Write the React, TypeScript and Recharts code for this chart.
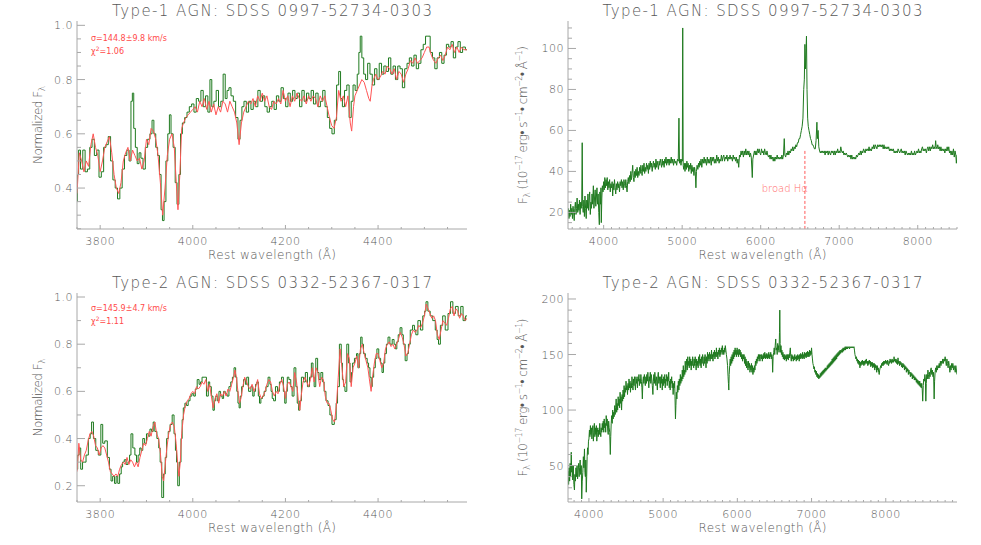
import React from 'react';
import { LineChart, Line, XAxis, YAxis, ReferenceLine } from 'recharts';

type Pt = [number, number];

const AXIS = '#a8a8a8';
const TEXT = '#585858';
const GREEN = '#1f7a1f';
const RED = '#ff5555';
const FONT = '"DejaVu Sans", sans-serif';

const title1 = 'Type-1 AGN: SDSS 0997-52734-0303';
const title2 = 'Type-2 AGN: SDSS 0332-52367-0317';
const xTitle = 'Rest wavelength (Å)';

// type-1, normalised zoom: observed (green) and template fit (red)
const t1Obs: Pt[] = [
  [3750, 0.35], [3752, 0.45], [3755, 0.54], [3760, 0.47], [3765, 0.54], [3770, 0.46], [3775, 0.47], [3780, 0.55],
  [3785, 0.58], [3790, 0.52], [3795, 0.54], [3800, 0.44], [3805, 0.46], [3810, 0.55], [3815, 0.56], [3820, 0.59],
  [3825, 0.5], [3830, 0.43], [3835, 0.4], [3840, 0.36], [3845, 0.4], [3850, 0.47], [3855, 0.52], [3860, 0.54],
  [3865, 0.5], [3868, 0.72], [3871, 0.75], [3874, 0.62], [3878, 0.55], [3882, 0.49], [3886, 0.53], [3890, 0.51],
  [3895, 0.47], [3900, 0.55], [3905, 0.58], [3910, 0.6], [3914, 0.65], [3918, 0.6], [3922, 0.55], [3926, 0.52],
  [3930, 0.45], [3933, 0.32], [3936, 0.28], [3940, 0.35], [3944, 0.5], [3948, 0.6], [3951, 0.67], [3955, 0.6],
  [3960, 0.55], [3964, 0.42], [3968, 0.34], [3972, 0.45], [3975, 0.6], [3980, 0.64], [3985, 0.66], [3990, 0.68],
  [3995, 0.7], [4000, 0.71], [4005, 0.68], [4010, 0.73], [4015, 0.72], [4020, 0.76], [4025, 0.7], [4030, 0.74],
  [4035, 0.68], [4039, 0.8], [4043, 0.7], [4048, 0.72], [4053, 0.76], [4058, 0.7], [4063, 0.72], [4068, 0.82],
  [4072, 0.73], [4076, 0.76], [4080, 0.77], [4085, 0.74], [4090, 0.72], [4095, 0.66], [4100, 0.58], [4104, 0.65],
  [4108, 0.7], [4113, 0.72], [4118, 0.68], [4123, 0.72], [4128, 0.69], [4133, 0.72], [4138, 0.7], [4143, 0.76],
  [4148, 0.72], [4153, 0.74], [4158, 0.7], [4163, 0.68], [4168, 0.7], [4173, 0.72], [4178, 0.69], [4183, 0.74],
  [4188, 0.72], [4193, 0.77], [4198, 0.73], [4203, 0.7], [4208, 0.75], [4213, 0.72], [4218, 0.76], [4223, 0.73],
  [4228, 0.75], [4233, 0.7], [4238, 0.76], [4243, 0.72], [4248, 0.75], [4253, 0.73], [4258, 0.76], [4263, 0.71],
  [4268, 0.75], [4273, 0.7], [4278, 0.72], [4283, 0.76], [4288, 0.7], [4293, 0.66], [4298, 0.62], [4303, 0.6],
  [4308, 0.65], [4313, 0.78], [4317, 0.83], [4321, 0.73], [4325, 0.7], [4330, 0.76], [4335, 0.78], [4340, 0.66],
  [4344, 0.72], [4348, 0.78], [4353, 0.76], [4357, 0.82], [4360, 0.9], [4363, 0.96], [4367, 0.88], [4371, 0.82],
  [4375, 0.8], [4380, 0.86], [4385, 0.82], [4390, 0.78], [4395, 0.84], [4400, 0.8], [4405, 0.86], [4410, 0.82],
  [4415, 0.85], [4420, 0.83], [4425, 0.88], [4430, 0.82], [4435, 0.85], [4440, 0.8], [4445, 0.85], [4450, 0.84],
  [4455, 0.77], [4460, 0.84], [4465, 0.86], [4470, 0.88], [4475, 0.85], [4480, 0.89], [4485, 0.84], [4490, 0.86],
  [4495, 0.91], [4500, 0.93], [4505, 0.96], [4510, 0.96], [4515, 0.9], [4520, 0.88], [4525, 0.84], [4530, 0.88],
  [4535, 0.9], [4540, 0.86], [4545, 0.89], [4550, 0.93], [4555, 0.92], [4560, 0.94], [4565, 0.88], [4570, 0.92],
  [4575, 0.94], [4580, 0.9], [4585, 0.92], [4592, 0.91],
];

const t1Fit: Pt[] = [
  [3750, 0.38], [3755, 0.53], [3760, 0.5], [3765, 0.46], [3770, 0.5], [3775, 0.48], [3780, 0.56], [3785, 0.6],
  [3790, 0.55], [3795, 0.52], [3800, 0.46], [3805, 0.5], [3810, 0.55], [3815, 0.57], [3820, 0.59], [3825, 0.53],
  [3830, 0.45], [3835, 0.4], [3840, 0.38], [3845, 0.42], [3850, 0.5], [3855, 0.53], [3860, 0.55], [3865, 0.5],
  [3870, 0.54], [3875, 0.52], [3880, 0.5], [3885, 0.51], [3890, 0.47], [3895, 0.5], [3900, 0.58], [3905, 0.56],
  [3910, 0.62], [3915, 0.61], [3920, 0.58], [3925, 0.52], [3930, 0.42], [3935, 0.3], [3940, 0.4], [3945, 0.52],
  [3950, 0.58], [3955, 0.6], [3960, 0.55], [3965, 0.4], [3968, 0.32], [3972, 0.45], [3976, 0.62], [3980, 0.64],
  [3985, 0.66], [3990, 0.67], [3995, 0.68], [4000, 0.69], [4005, 0.7], [4010, 0.68], [4015, 0.72], [4020, 0.7],
  [4025, 0.73], [4030, 0.69], [4035, 0.72], [4040, 0.68], [4045, 0.71], [4050, 0.67], [4055, 0.7], [4060, 0.68],
  [4065, 0.72], [4070, 0.71], [4075, 0.68], [4080, 0.72], [4085, 0.7], [4090, 0.68], [4095, 0.64], [4100, 0.56],
  [4105, 0.64], [4110, 0.68], [4115, 0.7], [4120, 0.72], [4125, 0.71], [4130, 0.73], [4135, 0.7], [4140, 0.74],
  [4145, 0.72], [4150, 0.75], [4155, 0.72], [4160, 0.74], [4165, 0.7], [4170, 0.69], [4175, 0.72], [4180, 0.71],
  [4185, 0.73], [4190, 0.71], [4195, 0.76], [4200, 0.72], [4205, 0.74], [4210, 0.7], [4215, 0.74], [4220, 0.72],
  [4225, 0.75], [4230, 0.73], [4235, 0.72], [4240, 0.74], [4245, 0.71], [4250, 0.74], [4255, 0.72], [4260, 0.74],
  [4265, 0.73], [4270, 0.7], [4275, 0.74], [4280, 0.72], [4285, 0.74], [4290, 0.7], [4295, 0.66], [4300, 0.63],
  [4305, 0.62], [4310, 0.66], [4315, 0.76], [4320, 0.72], [4325, 0.74], [4330, 0.7], [4335, 0.74], [4340, 0.64],
  [4343, 0.61], [4347, 0.7], [4350, 0.74], [4355, 0.76], [4360, 0.78], [4365, 0.8], [4370, 0.79], [4375, 0.76],
  [4380, 0.73], [4383, 0.72], [4387, 0.78], [4390, 0.8], [4395, 0.82], [4400, 0.8], [4405, 0.81], [4410, 0.83],
  [4415, 0.82], [4420, 0.85], [4425, 0.84], [4430, 0.82], [4435, 0.84], [4440, 0.8], [4445, 0.83], [4450, 0.82],
  [4455, 0.79], [4460, 0.82], [4465, 0.84], [4470, 0.87], [4475, 0.86], [4480, 0.88], [4485, 0.86], [4490, 0.87],
  [4495, 0.88], [4500, 0.9], [4505, 0.92], [4510, 0.92], [4515, 0.89], [4520, 0.87], [4525, 0.86], [4530, 0.88],
  [4535, 0.89], [4540, 0.87], [4545, 0.89], [4550, 0.92], [4555, 0.91], [4560, 0.93], [4565, 0.9], [4570, 0.92],
  [4575, 0.9], [4580, 0.92], [4585, 0.91], [4592, 0.91],
];

// type-1, full flux-calibrated spectrum
const t1Full: Pt[] = [
  [3550, 22], [3558, 17], [3565, 21], [3572, 18], [3580, 24], [3588, 19], [3595, 22], [3603, 17], [3610, 23],
  [3618, 20], [3625, 16], [3632, 22], [3640, 25], [3648, 19], [3655, 22], [3662, 27], [3670, 20], [3678, 24],
  [3685, 21], [3692, 26], [3700, 19], [3708, 25], [3715, 22], [3721, 26], [3727, 54], [3733, 23], [3740, 20],
  [3748, 26], [3755, 18], [3762, 28], [3770, 22], [3778, 17], [3785, 26], [3792, 22], [3800, 29], [3808, 21],
  [3815, 26], [3822, 30], [3830, 19], [3838, 25], [3845, 22], [3852, 29], [3860, 24], [3869, 33], [3876, 22],
  [3884, 27], [3892, 31], [3900, 23], [3908, 28], [3915, 32], [3922, 24], [3930, 29], [3938, 20], [3945, 14],
  [3952, 30], [3960, 24], [3966, 32], [3970, 15], [3977, 27], [3984, 33], [3992, 30], [4000, 35], [4008, 31],
  [4015, 37], [4023, 32], [4030, 36], [4038, 33], [4045, 37], [4053, 31], [4060, 35], [4068, 32], [4076, 36],
  [4084, 30], [4092, 34], [4100, 32], [4108, 35], [4115, 28], [4123, 34], [4130, 31], [4138, 36], [4146, 32],
  [4154, 29], [4162, 34], [4170, 31], [4178, 35], [4186, 32], [4194, 34], [4202, 30], [4210, 35], [4218, 33],
  [4226, 36], [4234, 32], [4242, 35], [4250, 31], [4258, 36], [4266, 34], [4274, 32], [4282, 36], [4290, 33],
  [4298, 30], [4306, 35], [4314, 37], [4322, 34], [4330, 38], [4338, 35], [4346, 40], [4354, 36], [4362, 39],
  [4370, 43], [4378, 37], [4386, 35], [4394, 40], [4402, 37], [4410, 41], [4418, 38], [4426, 42], [4434, 37],
  [4442, 40], [4450, 38], [4458, 42], [4466, 39], [4474, 43], [4482, 40], [4490, 38], [4498, 43], [4506, 40],
  [4514, 44], [4522, 39], [4530, 42], [4538, 40], [4546, 44], [4554, 41], [4562, 43], [4570, 39], [4578, 44],
  [4586, 41], [4594, 45], [4602, 42], [4610, 44], [4618, 40], [4626, 43], [4634, 45], [4642, 42], [4650, 44],
  [4658, 41], [4666, 46], [4674, 42], [4682, 45], [4690, 43], [4698, 41], [4706, 45], [4714, 43], [4722, 46],
  [4730, 44], [4738, 42], [4746, 46], [4754, 43], [4762, 45], [4770, 42], [4778, 46], [4786, 44], [4794, 47],
  [4802, 43], [4810, 46], [4818, 44], [4826, 46], [4834, 43], [4842, 46], [4850, 44], [4861, 47], [4870, 44],
  [4880, 46], [4890, 43], [4900, 46], [4910, 44], [4920, 45], [4930, 43], [4940, 46], [4950, 45], [4959, 66],
  [4966, 44], [4975, 46], [4985, 43], [4995, 46], [5002, 45], [5007, 110], [5013, 43], [5020, 41], [5028, 44],
  [5036, 40], [5045, 44], [5053, 41], [5060, 45], [5068, 42], [5076, 44], [5084, 40], [5092, 43], [5100, 41],
  [5108, 44], [5116, 39], [5124, 43], [5132, 40], [5140, 42], [5150, 38], [5158, 42], [5166, 40], [5175, 32],
  [5182, 40], [5190, 43], [5200, 41], [5208, 44], [5216, 42], [5224, 45], [5232, 43], [5240, 46], [5250, 42],
  [5260, 46], [5270, 44], [5280, 47], [5290, 44], [5300, 46], [5310, 43], [5320, 47], [5330, 44], [5340, 46],
  [5350, 44], [5360, 47], [5370, 43], [5380, 47], [5390, 45], [5400, 47], [5410, 44], [5420, 46], [5430, 44],
  [5440, 48], [5450, 45], [5460, 47], [5470, 44], [5480, 46], [5490, 45], [5500, 48], [5510, 45], [5520, 47],
  [5530, 48], [5540, 45], [5550, 47], [5560, 46], [5570, 48], [5580, 45], [5590, 47], [5600, 46], [5610, 48],
  [5620, 46], [5630, 47], [5640, 45], [5650, 48], [5660, 46], [5670, 47], [5680, 45], [5690, 47], [5700, 44],
  [5710, 46], [5720, 42], [5730, 48], [5740, 47], [5750, 50], [5760, 48], [5770, 50], [5780, 47], [5790, 50],
  [5800, 48], [5810, 51], [5820, 48], [5830, 50], [5840, 48], [5850, 50], [5860, 47], [5870, 49], [5880, 47],
  [5893, 37], [5900, 46], [5910, 48], [5920, 50], [5930, 48], [5940, 50], [5950, 48], [5960, 51], [5970, 49],
  [5980, 51], [5990, 49], [6000, 48], [6010, 51], [6020, 49], [6030, 50], [6040, 48], [6050, 51], [6060, 49],
  [6070, 48], [6080, 50], [6090, 48], [6100, 47], [6110, 48], [6120, 46], [6130, 48], [6140, 46], [6150, 47],
  [6160, 45], [6170, 47], [6180, 45], [6190, 47], [6200, 46], [6210, 48], [6220, 46], [6230, 47], [6240, 46],
  [6250, 47], [6260, 46], [6270, 48], [6280, 46], [6290, 48], [6300, 56], [6308, 48], [6318, 47], [6328, 49],
  [6338, 48], [6348, 50], [6358, 48], [6368, 50], [6378, 49], [6388, 51], [6398, 50], [6408, 52], [6418, 50],
  [6428, 52], [6438, 51], [6448, 53], [6458, 52], [6468, 54], [6478, 54], [6488, 56], [6498, 56], [6508, 58],
  [6518, 60], [6528, 62], [6538, 66], [6548, 80], [6556, 85], [6563, 102], [6570, 90], [6578, 100], [6583, 106],
  [6590, 80], [6598, 66], [6606, 62], [6615, 60], [6625, 58], [6635, 56], [6645, 55], [6655, 53], [6665, 53],
  [6675, 52], [6685, 51], [6695, 51], [6705, 55], [6716, 64], [6722, 56], [6731, 60], [6740, 52], [6750, 50],
  [6760, 49], [6770, 50], [6780, 49], [6790, 50], [6800, 49], [6810, 50], [6820, 48], [6830, 50], [6840, 49],
  [6850, 50], [6860, 48], [6870, 50], [6880, 49], [6890, 48], [6900, 50], [6910, 49], [6920, 50], [6930, 48],
  [6940, 50], [6950, 48], [6960, 50], [6970, 49], [6980, 51], [6990, 49], [7000, 50], [7010, 49], [7020, 52],
  [7030, 50], [7040, 49], [7050, 50], [7060, 48], [7070, 49], [7080, 48], [7090, 49], [7100, 48], [7110, 47],
  [7120, 48], [7130, 47], [7140, 48], [7150, 46], [7160, 48], [7170, 46], [7180, 47], [7190, 46], [7200, 47],
  [7210, 46], [7220, 48], [7230, 47], [7240, 48], [7250, 49], [7260, 48], [7270, 50], [7280, 48], [7290, 50],
  [7300, 49], [7310, 51], [7320, 50], [7330, 49], [7340, 51], [7350, 50], [7360, 51], [7370, 50], [7380, 52],
  [7390, 50], [7400, 51], [7410, 50], [7420, 52], [7430, 51], [7440, 53], [7450, 51], [7460, 53], [7470, 52],
  [7480, 51], [7490, 53], [7500, 52], [7510, 53], [7520, 52], [7530, 53], [7540, 52], [7550, 53], [7560, 51],
  [7570, 53], [7580, 51], [7590, 52], [7600, 51], [7610, 52], [7620, 51], [7630, 52], [7640, 50], [7650, 51],
  [7660, 50], [7670, 51], [7680, 50], [7690, 51], [7700, 49], [7710, 50], [7720, 49], [7730, 50], [7740, 49],
  [7750, 51], [7760, 50], [7770, 49], [7780, 50], [7790, 51], [7800, 49], [7810, 50], [7820, 49], [7830, 50],
  [7840, 48], [7850, 50], [7860, 49], [7870, 48], [7880, 49], [7890, 48], [7900, 49], [7910, 48], [7920, 50],
  [7930, 48], [7940, 49], [7950, 48], [7960, 50], [7970, 48], [7980, 49], [7990, 50], [8000, 49], [8010, 51],
  [8020, 49], [8030, 50], [8040, 49], [8050, 51], [8060, 52], [8070, 50], [8080, 51], [8090, 50], [8100, 51],
  [8110, 49], [8120, 51], [8130, 52], [8140, 50], [8150, 52], [8160, 50], [8170, 52], [8180, 51], [8190, 53],
  [8200, 51], [8210, 52], [8220, 51], [8228, 55], [8235, 52], [8245, 51], [8255, 53], [8265, 51], [8275, 52],
  [8285, 50], [8295, 52], [8305, 50], [8315, 51], [8325, 50], [8335, 51], [8345, 49], [8355, 51], [8365, 50],
  [8375, 52], [8385, 50], [8395, 52], [8405, 49], [8415, 50], [8425, 48], [8435, 50], [8445, 48], [8455, 51],
  [8465, 47], [8475, 50], [8485, 48], [8492, 44], [8500, 48],
];

// type-2, normalised zoom
const t2Obs: Pt[] = [
  [3750, 0.27], [3753, 0.33], [3756, 0.36], [3760, 0.27], [3764, 0.3], [3767, 0.3], [3772, 0.33], [3777, 0.4],
  [3780, 0.42], [3783, 0.47], [3788, 0.4], [3793, 0.35], [3799, 0.33], [3804, 0.46], [3807, 0.38], [3813, 0.39],
  [3818, 0.32], [3822, 0.27], [3825, 0.22], [3829, 0.24], [3833, 0.21], [3836, 0.24], [3840, 0.21], [3844, 0.25],
  [3847, 0.28], [3850, 0.3], [3854, 0.31], [3858, 0.29], [3862, 0.3], [3865, 0.33], [3868, 0.42], [3873, 0.36],
  [3877, 0.33], [3880, 0.3], [3884, 0.33], [3887, 0.36], [3890, 0.35], [3894, 0.4], [3898, 0.38], [3902, 0.42],
  [3906, 0.41], [3909, 0.44], [3913, 0.43], [3916, 0.47], [3920, 0.43], [3925, 0.4], [3928, 0.36], [3931, 0.3],
  [3935, 0.15], [3939, 0.25], [3942, 0.32], [3945, 0.4], [3949, 0.43], [3953, 0.46], [3958, 0.5], [3961, 0.42],
  [3964, 0.35], [3966, 0.3], [3969, 0.2], [3973, 0.3], [3976, 0.4], [3978, 0.48], [3981, 0.53], [3985, 0.55],
  [3988, 0.54], [3992, 0.56], [3996, 0.58], [4000, 0.59], [4004, 0.58], [4007, 0.61], [4012, 0.65], [4015, 0.63],
  [4018, 0.64], [4022, 0.66], [4027, 0.66], [4032, 0.58], [4035, 0.64], [4038, 0.62], [4042, 0.58], [4045, 0.52],
  [4048, 0.56], [4051, 0.58], [4055, 0.56], [4058, 0.6], [4062, 0.58], [4065, 0.57], [4068, 0.6], [4072, 0.59],
  [4076, 0.58], [4080, 0.62], [4084, 0.64], [4087, 0.66], [4091, 0.7], [4094, 0.66], [4096, 0.6], [4099, 0.55],
  [4101, 0.53], [4104, 0.58], [4107, 0.62], [4112, 0.65], [4115, 0.63], [4118, 0.66], [4123, 0.6], [4128, 0.62],
  [4131, 0.58], [4134, 0.6], [4137, 0.63], [4140, 0.64], [4143, 0.58], [4145, 0.55], [4149, 0.57], [4152, 0.58],
  [4156, 0.6], [4160, 0.62], [4165, 0.66], [4168, 0.63], [4170, 0.6], [4173, 0.57], [4176, 0.56], [4181, 0.62],
  [4185, 0.6], [4189, 0.64], [4194, 0.66], [4197, 0.6], [4200, 0.55], [4203, 0.6], [4205, 0.66], [4210, 0.65],
  [4213, 0.62], [4216, 0.58], [4221, 0.7], [4224, 0.62], [4227, 0.55], [4230, 0.52], [4232, 0.56], [4237, 0.66],
  [4241, 0.64], [4245, 0.68], [4250, 0.62], [4254, 0.66], [4258, 0.72], [4261, 0.66], [4263, 0.62], [4268, 0.74],
  [4271, 0.68], [4274, 0.65], [4279, 0.68], [4282, 0.64], [4285, 0.6], [4290, 0.56], [4294, 0.54], [4298, 0.5],
  [4303, 0.46], [4308, 0.48], [4311, 0.55], [4314, 0.62], [4319, 0.8], [4322, 0.72], [4324, 0.65], [4327, 0.62],
  [4330, 0.6], [4335, 0.8], [4338, 0.72], [4341, 0.64], [4344, 0.68], [4346, 0.72], [4352, 0.74], [4355, 0.76],
  [4358, 0.7], [4361, 0.76], [4364, 0.83], [4367, 0.8], [4370, 0.76], [4375, 0.74], [4378, 0.72], [4381, 0.7],
  [4384, 0.66], [4386, 0.62], [4389, 0.66], [4392, 0.7], [4396, 0.74], [4399, 0.78], [4404, 0.74], [4407, 0.72],
  [4410, 0.68], [4413, 0.72], [4416, 0.76], [4420, 0.8], [4423, 0.83], [4428, 0.8], [4433, 0.82], [4436, 0.8],
  [4439, 0.78], [4442, 0.81], [4445, 0.84], [4450, 0.87], [4453, 0.84], [4456, 0.8], [4461, 0.73], [4464, 0.76],
  [4467, 0.8], [4472, 0.86], [4477, 0.88], [4480, 0.86], [4483, 0.84], [4489, 0.9], [4494, 0.86], [4499, 0.92],
  [4502, 0.94], [4505, 0.98], [4510, 0.94], [4515, 0.92], [4521, 0.9], [4526, 0.86], [4529, 0.82], [4532, 0.8],
  [4537, 0.88], [4542, 0.92], [4548, 0.86], [4554, 0.93], [4559, 0.98], [4564, 0.93], [4570, 0.96], [4576, 0.92],
  [4581, 0.96], [4586, 0.9], [4592, 0.92],
];

const t2Fit: Pt[] = [
  [3750, 0.26], [3754, 0.38], [3758, 0.31], [3762, 0.3], [3766, 0.33], [3770, 0.35], [3774, 0.39], [3778, 0.42],
  [3782, 0.43], [3786, 0.41], [3790, 0.37], [3794, 0.36], [3798, 0.33], [3802, 0.36], [3806, 0.37], [3810, 0.36],
  [3814, 0.33], [3818, 0.3], [3822, 0.26], [3826, 0.25], [3830, 0.24], [3834, 0.25], [3838, 0.24], [3842, 0.27],
  [3846, 0.29], [3850, 0.3], [3854, 0.29], [3858, 0.32], [3862, 0.29], [3866, 0.31], [3870, 0.3], [3874, 0.28],
  [3878, 0.3], [3882, 0.28], [3886, 0.32], [3890, 0.35], [3894, 0.38], [3898, 0.37], [3902, 0.4], [3906, 0.43],
  [3910, 0.41], [3914, 0.45], [3918, 0.47], [3922, 0.42], [3926, 0.4], [3930, 0.34], [3934, 0.24], [3937, 0.22],
  [3940, 0.28], [3944, 0.36], [3948, 0.42], [3952, 0.46], [3956, 0.47], [3960, 0.45], [3964, 0.38], [3968, 0.28],
  [3970, 0.24], [3973, 0.3], [3976, 0.42], [3980, 0.5], [3984, 0.54], [3988, 0.56], [3992, 0.57], [3996, 0.59],
  [4000, 0.6], [4004, 0.59], [4008, 0.62], [4012, 0.61], [4016, 0.62], [4020, 0.64], [4024, 0.63], [4028, 0.65],
  [4032, 0.6], [4036, 0.63], [4040, 0.58], [4044, 0.53], [4048, 0.57], [4052, 0.59], [4056, 0.55], [4060, 0.59],
  [4064, 0.58], [4068, 0.6], [4072, 0.58], [4076, 0.61], [4080, 0.6], [4084, 0.63], [4088, 0.66], [4091, 0.69],
  [4094, 0.66], [4098, 0.59], [4101, 0.55], [4104, 0.57], [4108, 0.62], [4112, 0.66], [4116, 0.64], [4120, 0.62],
  [4124, 0.61], [4128, 0.63], [4132, 0.6], [4136, 0.62], [4140, 0.65], [4144, 0.59], [4148, 0.57], [4152, 0.58],
  [4156, 0.6], [4160, 0.63], [4164, 0.65], [4168, 0.64], [4172, 0.6], [4176, 0.58], [4180, 0.6], [4184, 0.59],
  [4188, 0.63], [4192, 0.65], [4196, 0.62], [4200, 0.57], [4204, 0.63], [4208, 0.64], [4212, 0.62], [4216, 0.6],
  [4220, 0.68], [4224, 0.64], [4228, 0.56], [4231, 0.52], [4234, 0.58], [4238, 0.64], [4242, 0.66], [4246, 0.64],
  [4250, 0.62], [4254, 0.65], [4258, 0.7], [4262, 0.64], [4266, 0.7], [4270, 0.68], [4274, 0.62], [4278, 0.66],
  [4282, 0.65], [4286, 0.58], [4290, 0.55], [4294, 0.55], [4298, 0.52], [4302, 0.48], [4306, 0.47], [4310, 0.54],
  [4314, 0.66], [4318, 0.78], [4322, 0.7], [4326, 0.62], [4330, 0.64], [4334, 0.76], [4338, 0.74], [4342, 0.62],
  [4346, 0.7], [4350, 0.72], [4354, 0.75], [4358, 0.7], [4362, 0.78], [4366, 0.8], [4370, 0.76], [4374, 0.73],
  [4378, 0.7], [4382, 0.64], [4385, 0.6], [4388, 0.66], [4392, 0.72], [4396, 0.76], [4400, 0.76], [4404, 0.73],
  [4408, 0.7], [4412, 0.72], [4416, 0.78], [4420, 0.8], [4424, 0.81], [4428, 0.79], [4432, 0.8], [4436, 0.78],
  [4440, 0.8], [4444, 0.82], [4448, 0.85], [4452, 0.83], [4456, 0.8], [4460, 0.75], [4464, 0.76], [4468, 0.8],
  [4472, 0.84], [4476, 0.86], [4480, 0.85], [4484, 0.86], [4488, 0.88], [4492, 0.87], [4496, 0.89], [4500, 0.92],
  [4504, 0.97], [4508, 0.95], [4512, 0.93], [4516, 0.91], [4520, 0.92], [4524, 0.9], [4528, 0.84], [4532, 0.82],
  [4536, 0.86], [4540, 0.9], [4544, 0.89], [4548, 0.88], [4552, 0.91], [4556, 0.95], [4560, 0.96], [4564, 0.92],
  [4568, 0.95], [4572, 0.94], [4576, 0.91], [4580, 0.93], [4584, 0.92], [4588, 0.9], [4592, 0.91],
];

// type-2, full flux-calibrated spectrum
const t2Full: Pt[] = [
  [3720, 45], [3726, 33], [3733, 48], [3740, 36], [3747, 52], [3754, 40], [3762, 62], [3768, 44], [3775, 50],
  [3782, 37], [3790, 50], [3797, 33], [3805, 28], [3811, 42], [3818, 36], [3825, 48], [3832, 40], [3840, 50],
  [3847, 38], [3854, 46], [3862, 52], [3868, 40], [3875, 48], [3882, 55], [3889, 42], [3897, 50], [3903, 20],
  [3910, 36], [3918, 44], [3925, 58], [3932, 48], [3940, 65], [3946, 44], [3952, 40], [3958, 55], [3964, 26],
  [3970, 40], [3976, 58], [3982, 66], [3988, 60], [3994, 72], [4000, 74], [4007, 82], [4013, 76], [4020, 86],
  [4026, 78], [4033, 84], [4040, 74], [4046, 82], [4053, 86], [4060, 72], [4066, 80], [4073, 88], [4080, 76],
  [4086, 84], [4093, 78], [4100, 86], [4106, 72], [4113, 80], [4120, 84], [4126, 76], [4133, 82], [4140, 78],
  [4146, 88], [4153, 80], [4160, 76], [4166, 84], [4173, 80], [4180, 88], [4186, 82], [4193, 90], [4200, 80],
  [4206, 92], [4213, 84], [4220, 88], [4226, 80], [4233, 95], [4240, 86], [4246, 92], [4253, 82], [4260, 78],
  [4266, 90], [4273, 84], [4280, 80], [4288, 60], [4294, 76], [4300, 88], [4307, 95], [4314, 88], [4320, 100],
  [4327, 92], [4334, 98], [4340, 94], [4347, 104], [4354, 96], [4360, 102], [4367, 110], [4374, 98], [4380, 106],
  [4387, 100], [4394, 112], [4400, 104], [4407, 110], [4414, 102], [4420, 116], [4427, 106], [4434, 112],
  [4440, 100], [4447, 114], [4454, 108], [4460, 118], [4467, 110], [4474, 122], [4480, 112], [4487, 120],
  [4494, 116], [4500, 126], [4507, 118], [4514, 122], [4520, 114], [4527, 124], [4534, 118], [4540, 128],
  [4547, 120], [4554, 126], [4560, 116], [4567, 124], [4574, 120], [4580, 130], [4587, 122], [4594, 118],
  [4600, 128], [4607, 122], [4614, 130], [4620, 124], [4627, 118], [4634, 130], [4640, 124], [4647, 128],
  [4654, 120], [4660, 130], [4667, 126], [4674, 132], [4680, 122], [4687, 128], [4694, 124], [4700, 132],
  [4707, 126], [4714, 120], [4720, 110], [4727, 126], [4734, 130], [4740, 124], [4747, 132], [4754, 126],
  [4760, 122], [4767, 130], [4774, 124], [4780, 132], [4787, 126], [4794, 134], [4800, 128], [4807, 120],
  [4814, 130], [4820, 126], [4827, 134], [4834, 124], [4840, 132], [4847, 128], [4854, 122], [4862, 114],
  [4868, 126], [4875, 132], [4882, 124], [4888, 134], [4895, 128], [4902, 122], [4908, 130], [4915, 126],
  [4922, 118], [4928, 130], [4935, 134], [4942, 124], [4948, 130], [4955, 126], [4962, 120], [4968, 130],
  [4975, 124], [4982, 132], [4988, 118], [4995, 128], [5002, 122], [5008, 130], [5015, 124], [5022, 132],
  [5028, 120], [5035, 128], [5042, 126], [5048, 132], [5055, 122], [5062, 130], [5068, 126], [5075, 134],
  [5082, 120], [5088, 126], [5095, 118], [5102, 128], [5108, 124], [5115, 130], [5122, 120], [5128, 126],
  [5135, 114], [5142, 124], [5148, 120], [5155, 126], [5160, 112], [5166, 92], [5172, 104], [5178, 116],
  [5185, 110], [5192, 122], [5198, 116], [5205, 126], [5212, 118], [5218, 128], [5225, 122], [5232, 132],
  [5238, 124], [5245, 130], [5252, 126], [5258, 136], [5265, 128], [5272, 140], [5278, 130], [5285, 136],
  [5292, 132], [5298, 144], [5305, 134], [5312, 140], [5318, 146], [5325, 136], [5332, 148], [5338, 140],
  [5345, 144], [5352, 138], [5358, 148], [5365, 140], [5372, 146], [5378, 136], [5385, 144], [5392, 140],
  [5398, 148], [5405, 142], [5412, 138], [5418, 146], [5425, 140], [5432, 148], [5438, 142], [5445, 136],
  [5452, 146], [5458, 140], [5465, 144], [5472, 138], [5478, 148], [5485, 142], [5492, 150], [5498, 140],
  [5505, 146], [5512, 138], [5518, 148], [5525, 142], [5532, 150], [5538, 144], [5545, 140], [5552, 148],
  [5558, 142], [5565, 150], [5572, 144], [5578, 138], [5585, 148], [5592, 142], [5598, 152], [5605, 144],
  [5612, 150], [5618, 146], [5625, 152], [5632, 144], [5638, 150], [5645, 146], [5652, 154], [5658, 146],
  [5665, 150], [5672, 144], [5678, 152], [5685, 148], [5692, 154], [5698, 146], [5705, 152], [5712, 148],
  [5718, 156], [5725, 148], [5732, 152], [5738, 146], [5745, 154], [5752, 150], [5758, 156], [5765, 148],
  [5772, 154], [5778, 150], [5785, 156], [5792, 152], [5798, 158], [5805, 150], [5812, 154], [5818, 150],
  [5825, 156], [5832, 152], [5838, 158], [5845, 154], [5852, 150], [5860, 146], [5868, 140], [5875, 130],
  [5880, 124], [5885, 118], [5890, 132], [5897, 140], [5904, 146], [5910, 140], [5917, 148], [5924, 142],
  [5930, 150], [5937, 144], [5944, 152], [5950, 146], [5957, 154], [5964, 148], [5970, 156], [5977, 150],
  [5984, 154], [5990, 148], [5997, 156], [6004, 150], [6010, 154], [6017, 148], [6024, 155], [6030, 150],
  [6037, 154], [6044, 148], [6050, 152], [6057, 146], [6064, 150], [6070, 144], [6077, 150], [6084, 146],
  [6090, 150], [6097, 142], [6104, 148], [6110, 140], [6117, 146], [6124, 138], [6130, 144], [6137, 140],
  [6144, 136], [6150, 144], [6157, 138], [6164, 142], [6170, 134], [6177, 140], [6184, 136], [6190, 142],
  [6197, 134], [6204, 140], [6210, 132], [6217, 138], [6224, 134], [6230, 140], [6237, 136], [6244, 144],
  [6250, 140], [6257, 146], [6264, 142], [6270, 148], [6277, 144], [6284, 150], [6290, 146], [6297, 150],
  [6304, 144], [6310, 148], [6317, 150], [6324, 146], [6330, 150], [6337, 144], [6344, 149], [6350, 146],
  [6357, 151], [6364, 147], [6370, 152], [6377, 146], [6384, 150], [6390, 147], [6397, 151], [6404, 146],
  [6410, 150], [6417, 147], [6424, 152], [6430, 146], [6437, 150], [6444, 148], [6450, 152], [6457, 146],
  [6464, 150], [6470, 148], [6476, 134], [6482, 148], [6490, 152], [6497, 156], [6504, 150], [6510, 158],
  [6517, 164], [6524, 154], [6530, 156], [6537, 150], [6544, 160], [6550, 154], [6557, 158], [6562, 152],
  [6568, 170], [6572, 190], [6577, 160], [6582, 152], [6588, 158], [6594, 150], [6600, 154], [6607, 148],
  [6614, 152], [6620, 146], [6627, 150], [6634, 145], [6640, 150], [6647, 146], [6654, 149], [6660, 144],
  [6667, 150], [6674, 146], [6680, 150], [6687, 145], [6694, 150], [6700, 147], [6707, 152], [6714, 156],
  [6720, 148], [6727, 144], [6734, 150], [6740, 146], [6747, 149], [6754, 144], [6760, 148], [6767, 145],
  [6774, 150], [6780, 146], [6787, 148], [6794, 144], [6800, 149], [6807, 145], [6814, 150], [6820, 146],
  [6827, 149], [6834, 144], [6840, 150], [6847, 146], [6854, 151], [6860, 147], [6867, 150], [6874, 146],
  [6880, 152], [6887, 147], [6894, 150], [6900, 146], [6907, 152], [6914, 148], [6920, 151], [6927, 147],
  [6934, 152], [6940, 148], [6947, 153], [6954, 148], [6960, 152], [6967, 148], [6974, 154], [6980, 149],
  [6987, 153], [6994, 150], [7000, 156], [7006, 150], [7012, 146], [7018, 142], [7025, 140], [7032, 137],
  [7038, 139], [7045, 134], [7052, 136], [7058, 132], [7065, 135], [7072, 130], [7078, 133], [7085, 129],
  [7092, 132], [7098, 128], [7105, 131], [7112, 129], [7118, 133], [7125, 130], [7132, 134], [7138, 131],
  [7145, 135], [7152, 132], [7158, 136], [7165, 133], [7172, 137], [7178, 134], [7185, 138], [7192, 135],
  [7198, 138], [7205, 136], [7212, 140], [7218, 137], [7225, 141], [7232, 138], [7238, 142], [7245, 139],
  [7252, 143], [7258, 140], [7265, 144], [7272, 141], [7278, 146], [7285, 142], [7292, 147], [7298, 143],
  [7305, 148], [7312, 144], [7318, 149], [7325, 145], [7332, 150], [7338, 146], [7345, 151], [7352, 148],
  [7358, 152], [7365, 149], [7372, 153], [7378, 150], [7385, 154], [7392, 151], [7398, 154], [7405, 152],
  [7412, 155], [7418, 152], [7425, 156], [7432, 153], [7438, 156], [7445, 154], [7452, 157], [7458, 154],
  [7465, 157], [7472, 155], [7478, 157], [7485, 155], [7492, 157], [7498, 156], [7505, 157], [7512, 155],
  [7518, 157], [7525, 156], [7532, 157], [7538, 156], [7545, 157], [7552, 156], [7558, 157], [7565, 156],
  [7572, 157], [7578, 154], [7585, 150], [7592, 148], [7598, 146], [7605, 148], [7612, 144], [7618, 146],
  [7625, 142], [7632, 145], [7638, 141], [7645, 144], [7652, 138], [7658, 143], [7665, 140], [7672, 144],
  [7678, 141], [7685, 145], [7692, 141], [7698, 144], [7705, 140], [7712, 144], [7718, 141], [7725, 145],
  [7732, 142], [7738, 146], [7745, 142], [7752, 144], [7758, 140], [7765, 144], [7772, 141], [7778, 145],
  [7785, 142], [7792, 144], [7798, 139], [7805, 143], [7812, 140], [7818, 143], [7825, 138], [7832, 142],
  [7838, 139], [7845, 142], [7852, 136], [7858, 141], [7865, 138], [7872, 140], [7878, 134], [7885, 140],
  [7892, 136], [7898, 138], [7905, 134], [7912, 132], [7918, 136], [7925, 138], [7932, 140], [7938, 138],
  [7945, 142], [7952, 140], [7958, 143], [7965, 140], [7972, 144], [7978, 141], [7985, 144], [7992, 142],
  [7998, 145], [8005, 142], [8012, 144], [8018, 141], [8025, 145], [8032, 142], [8038, 140], [8045, 144],
  [8052, 142], [8058, 146], [8065, 143], [8072, 145], [8078, 142], [8085, 146], [8092, 143], [8098, 145],
  [8105, 143], [8112, 148], [8118, 144], [8125, 146], [8132, 143], [8138, 146], [8145, 142], [8152, 145],
  [8158, 141], [8165, 147], [8172, 142], [8178, 144], [8185, 140], [8192, 144], [8198, 141], [8205, 143],
  [8212, 139], [8218, 142], [8225, 138], [8232, 142], [8238, 139], [8245, 141], [8252, 136], [8258, 140],
  [8265, 137], [8272, 139], [8278, 134], [8285, 138], [8292, 135], [8298, 137], [8305, 132], [8312, 136],
  [8318, 133], [8325, 134], [8332, 130], [8338, 134], [8345, 131], [8352, 133], [8358, 128], [8365, 132],
  [8372, 129], [8378, 131], [8385, 127], [8392, 130], [8398, 127], [8405, 129], [8412, 125], [8418, 128],
  [8425, 124], [8432, 127], [8438, 123], [8445, 126], [8452, 122], [8458, 126], [8465, 121], [8472, 124],
  [8478, 120], [8485, 124], [8492, 118], [8498, 108], [8505, 122], [8512, 128], [8520, 126], [8527, 132],
  [8534, 128], [8540, 108], [8546, 124], [8552, 132], [8560, 128], [8568, 136], [8575, 132], [8582, 128],
  [8590, 134], [8597, 130], [8604, 136], [8612, 138], [8620, 132], [8628, 136], [8636, 130], [8644, 134],
  [8652, 110], [8658, 126], [8665, 134], [8672, 138], [8680, 134], [8688, 140], [8696, 136], [8704, 140],
  [8712, 138], [8720, 142], [8728, 138], [8736, 144], [8744, 140], [8752, 144], [8760, 142], [8768, 146],
  [8776, 142], [8784, 146], [8792, 144], [8800, 148], [8808, 144], [8816, 140], [8824, 146], [8832, 142],
  [8840, 138], [8848, 144], [8856, 140], [8864, 134], [8872, 140], [8880, 136], [8888, 142], [8896, 138],
  [8904, 142], [8912, 136], [8920, 140], [8928, 138], [8936, 134], [8944, 140], [8952, 136], [8960, 132],
];

const zoomXMajor = [3800, 4000, 4200, 4400];
const fullXMajor = [4000, 5000, 6000, 7000, 8000];
const norm1YMajor = [0.4, 0.6, 0.8, 1.0];
const norm2YMajor = [0.2, 0.4, 0.6, 0.8, 1.0];
const flux1YMajor = [20, 40, 60, 80, 100];
const flux2YMajor = [50, 100, 150, 200];

const steps = (a: number, b: number, s: number) => {
  const out: number[] = [];
  for (let v = a; v <= b + 1e-9; v += s) out.push(Math.round(v * 1000) / 1000);
  return out;
};
const has = (arr: number[], v: number) => arr.some((a) => Math.abs(a - v) < 1e-6);
const merge = (a: number[], b: number[]) =>
  [...a, ...b.filter((v) => !has(a, v))].sort((p, q) => p - q);

const labelStyle = { fontFamily: FONT, fontSize: 11, fontWeight: 300, fill: TEXT, letterSpacing: 0.5 };

function xTick(major: number[], bottom: boolean) {
  return (props: any) => {
    const { x, y, payload } = props;
    const big = has(major, payload.value);
    const len = big ? 4 : 2;
    return (
      <g>
        <line x1={x} x2={x} y1={y} y2={bottom ? y - len : y + len} stroke={AXIS} />
        {bottom && big && (
          <text x={x} y={y + 16} textAnchor="middle" {...labelStyle}>
            {payload.value}
          </text>
        )}
      </g>
    );
  };
}

function yTick(major: number[], left: boolean, fmt: (v: number) => string) {
  return (props: any) => {
    const { x, y, payload } = props;
    const big = has(major, payload.value);
    const len = big ? 8 : 4;
    return (
      <g>
        <line x1={x} x2={left ? x + len : x - len} y1={y} y2={y} stroke={AXIS} />
        {left && big && (
          <text x={x - 4} y={y + 4} textAnchor="end" {...labelStyle}>
            {fmt(payload.value)}
          </text>
        )}
      </g>
    );
  };
}

interface Series {
  data: Pt[];
  color: string;
  type: 'step' | 'linear';
}

interface PanelProps {
  left: number;
  top: number;
  width: number;
  height: number;
  plot: { l: number; r: number; t: number; b: number };
  xDomain: [number, number];
  yDomain: [number, number];
  xMajor: number[];
  xMinor: number[];
  yMajor: number[];
  yMinor: number[];
  yFmt: (v: number) => string;
  series: Series[];
  title: string;
  yTitle: React.ReactNode;
  yTitleDx: number;
  yTitleLen: number;
  refs?: React.ReactNode;
  notes?: React.ReactNode;
}

function Panel(p: PanelProps) {
  const { plot } = p;
  const xTicks = merge(p.xMajor, p.xMinor);
  const yTicks = merge(p.yMajor, p.yMinor);
  const cx = (plot.l + plot.r) / 2;
  const cy = (plot.t + plot.b) / 2;
  const common = { allowDataOverflow: true, interval: 0 as const, tickSize: 0, tickMargin: 0, axisLine: { stroke: AXIS }, tickLine: false };
  return (
    <div style={{ position: 'absolute', left: p.left, top: p.top, width: p.width, height: p.height }}>
      <LineChart width={p.width} height={p.height} margin={{ top: plot.t, right: p.width - plot.r, bottom: 0, left: 0 }}>
        <XAxis xAxisId="b" type="number" dataKey="x" domain={p.xDomain} ticks={xTicks} height={p.height - plot.b} tick={xTick(p.xMajor, true)} {...common} />
        <XAxis xAxisId="t" orientation="top" type="number" dataKey="x" domain={p.xDomain} ticks={xTicks} height={0} tick={xTick(p.xMajor, false)} {...common} />
        <YAxis yAxisId="l" type="number" domain={p.yDomain} ticks={yTicks} width={plot.l} tick={yTick(p.yMajor, true, p.yFmt)} {...common} />
        <YAxis yAxisId="r" orientation="right" type="number" domain={p.yDomain} ticks={yTicks} width={0} tick={yTick(p.yMajor, false, p.yFmt)} {...common} />
        {p.series.map((s, i) => (
          <Line
            key={i}
            xAxisId="b"
            yAxisId="l"
            data={s.data.map(([x, y]) => ({ x, y }))}
            dataKey="y"
            type={s.type}
            stroke={s.color}
            strokeWidth={1}
            dot={false}
            activeDot={false}
            isAnimationActive={false}
          />
        ))}
        {p.refs}
      </LineChart>
      <svg width={p.width} height={p.height} style={{ position: 'absolute', left: 0, top: 0, pointerEvents: 'none' }}>
        <text x={cx} y={plot.t - 5} textAnchor="middle" fontFamily={FONT} fontSize={15} fontWeight={300} fill={TEXT} textLength={320} lengthAdjust="spacing">
          {p.title}
        </text>
        <text x={cx} y={plot.b + 30} textAnchor="middle" fontFamily={FONT} fontSize={12} fontWeight={300} fill={TEXT} textLength={128} lengthAdjust="spacing">
          {xTitle}
        </text>
        <text
          x={plot.l + p.yTitleDx}
          y={cy}
          transform={`rotate(-90 ${plot.l + p.yTitleDx} ${cy})`}
          textAnchor="middle"
          fontFamily={FONT}
          fontSize={12}
          fontWeight={300}
          fill={TEXT}
          textLength={p.yTitleLen}
          lengthAdjust="spacing"
        >
          {p.yTitle}
        </text>
        {p.notes}
      </svg>
    </div>
  );
}

function FitNote({ x, y, sigma, chi }: { x: number; y: number; sigma: string; chi: string }) {
  return (
    <g fontFamily={FONT} fontSize={8} fill="#ff4a4a">
      <text x={x} y={y}>{`σ=${sigma} km/s`}</text>
      <text x={x} y={y + 13}>
        χ<tspan dy={-3} fontSize={6}>2</tspan>
        <tspan dy={3}>{`=${chi}`}</tspan>
      </text>
    </g>
  );
}

function HaLabel(props: any) {
  const vb = props.viewBox || {};
  return (
    <text x={vb.x + 3} y={vb.y + 41} textAnchor="end" fontFamily={FONT} fontSize={10} fontWeight={300} fill="#ff6a6a">
      broad Hα
    </text>
  );
}

const normTitle = (
  <>
    Normalized F<tspan dy={3} fontSize={9}>λ</tspan>
  </>
);
const fluxTitle = (
  <>
    F<tspan dy={3} fontSize={9}>λ</tspan>
    <tspan dy={-3}> (10</tspan>
    <tspan dy={-5} fontSize={8}>−17</tspan>
    <tspan dy={5}> erg• s</tspan>
    <tspan dy={-5} fontSize={8}>−1</tspan>
    <tspan dy={5}>• cm</tspan>
    <tspan dy={-5} fontSize={8}>−2</tspan>
    <tspan dy={5}>• Å</tspan>
    <tspan dy={-5} fontSize={8}>−1</tspan>
    <tspan dy={5}>)</tspan>
  </>
);

export default function App() {
  const f1 = (v: number) => v.toFixed(1);
  const f0 = (v: number) => String(Math.round(v));
  return (
    <div style={{ position: 'absolute', left: 0, top: 0, width: 981, height: 545, background: '#fff' }}>
      <Panel
        left={0}
        top={0}
        width={490}
        height={272}
        plot={{ l: 77, r: 467, t: 21, b: 229 }}
        xDomain={[3750, 4592]}
        yDomain={[0.249, 1.016]}
        xMajor={zoomXMajor}
        xMinor={steps(3750, 4550, 50)}
        yMajor={norm1YMajor}
        yMinor={steps(0.25, 1.0, 0.05)}
        yFmt={f1}
        series={[
          { data: t1Obs, color: GREEN, type: 'step' },
          { data: t1Fit, color: RED, type: 'linear' },
        ]}
        title={title1}
        yTitle={normTitle}
        yTitleDx={-35}
        yTitleLen={78}
        notes={<FitNote x={91} y={41} sigma="144.8±9.8" chi="1.06" />}
      />
      <Panel
        left={490}
        top={0}
        width={491}
        height={272}
        plot={{ l: 78, r: 467, t: 21, b: 229 }}
        xDomain={[3546, 8500]}
        yDomain={[11.9, 113.4]}
        xMajor={fullXMajor}
        xMinor={steps(3600, 8500, 100)}
        yMajor={flux1YMajor}
        yMinor={steps(15, 110, 5)}
        yFmt={f0}
        series={[{ data: t1Full, color: GREEN, type: 'linear' }]}
        title={title1}
        yTitle={fluxTitle}
        yTitleDx={-41}
        yTitleLen={158}
        refs={
          <ReferenceLine
            xAxisId="b"
            yAxisId="l"
            segment={[{ x: 6563, y: 50 }, { x: 6563, y: 11.9 }]}
            stroke="#ff5a5a"
            strokeDasharray="3 2"
            label={<HaLabel />}
          />
        }
      />
      <Panel
        left={0}
        top={270}
        width={490}
        height={275}
        plot={{ l: 77, r: 467, t: 23, b: 232 }}
        xDomain={[3750, 4592]}
        yDomain={[0.131, 1.017]}
        xMajor={zoomXMajor}
        xMinor={steps(3750, 4550, 50)}
        yMajor={norm2YMajor}
        yMinor={steps(0.3, 0.9, 0.1)}
        yFmt={f1}
        series={[
          { data: t2Obs, color: GREEN, type: 'step' },
          { data: t2Fit, color: RED, type: 'linear' },
        ]}
        title={title2}
        yTitle={normTitle}
        yTitleDx={-35}
        yTitleLen={78}
        notes={<FitNote x={91} y={41} sigma="145.9±4.7" chi="1.11" />}
      />
      <Panel
        left={490}
        top={270}
        width={491}
        height={275}
        plot={{ l: 78, r: 467, t: 23, b: 232 }}
        xDomain={[3718, 8960]}
        yDomain={[17.2, 205.4]}
        xMajor={fullXMajor}
        xMinor={steps(3800, 8900, 100)}
        yMajor={flux2YMajor}
        yMinor={steps(20, 200, 10)}
        yFmt={f0}
        series={[{ data: t2Full, color: GREEN, type: 'linear' }]}
        title={title2}
        yTitle={fluxTitle}
        yTitleDx={-41}
        yTitleLen={158}
      />
    </div>
  );
}
